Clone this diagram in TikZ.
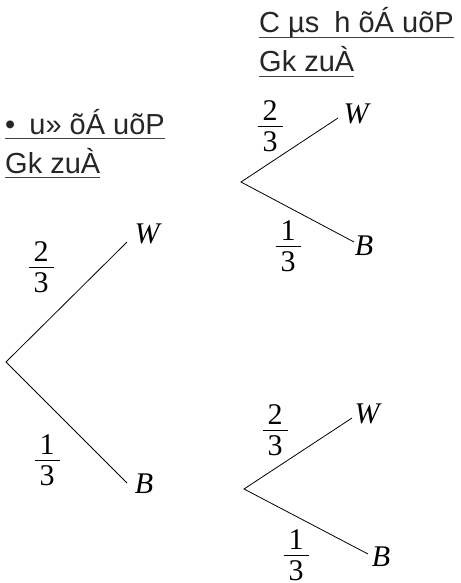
\documentclass[tikz,border=0pt]{standalone}
\usepackage{fontspec}
\setmainfont{Liberation Serif}
\newfontfamily\hdrfont{Liberation Sans}
\newcommand\myfr[2]{\vbox{\hbox to 25pt{\hss#1\hss}\kern5.5pt\hrule height 1pt\kern5pt\hbox to 25pt{\hss#2\hss}}}
\tikzset{
  hdr/.style={anchor=base west, inner sep=0pt, font=\hdrfont\fontsize{29}{33}\selectfont, text=black!85},
  ul/.style={line width=0.9pt, black!75},
  br/.style={line width=0.8pt, black},
  frc/.style={inner sep=0pt, font=\fontsize{30}{34}\selectfont},
  leaf/.style={inner sep=0pt, font=\fontsize{30}{34}\selectfont\itshape}
}
\begin{document}
\begin{tikzpicture}[x=1pt,y=-1pt]
\useasboundingbox (0,0) rectangle (460,583);
% headers
\node[hdr] (h1a) at (259,33) {C µs\hspace{7pt} h õÁ uõP\hspace{14pt}};
\node[hdr] (h1b) at (259,72) {Gk zuÀ\hspace{9pt}};
\node[hdr] (h2a) at (5,134) {•\hspace{6pt} u» õÁ uõP\hspace{11pt}};
\node[hdr] (h2b) at (5,173) {Gk zuÀ\hspace{10pt}};
\foreach \n in {h1a,h1b,h2a,h2b}{
  \draw[ul] ([yshift=-4pt]\n.base west) -- ([yshift=-4pt]\n.base east);
}
% main tree
\coordinate (r0) at (6,362);
\coordinate (w0) at (127,242);
\coordinate (b0) at (127,483);
\draw[br] (w0) -- (r0) -- (b0);
\node[leaf] (lw0) at (147,234) {W};
\node[leaf] (lb0) at (144,484) {B};
\node[frc] (f20) at (41,267) {\myfr{2}{3}};
\node[frc] (f10) at (47,460) {\myfr{1}{3}};
% upper right tree
\coordinate (r1) at (241,182);
\coordinate (w1) at (338,118);
\coordinate (b1) at (354,242);
\draw[br] (w1) -- (r1) -- (b1);
\node[leaf] (lw1) at (356,114) {W};
\node[leaf] (lb1) at (364,246) {B};
\node[frc] (f21) at (270,126) {\myfr{2}{3}};
\node[frc] (f11) at (288,246) {\myfr{1}{3}};
% lower right tree
\coordinate (r2) at (244,489);
\coordinate (w2) at (352,418);
\coordinate (b2) at (368,554);
\draw[br] (w2) -- (r2) -- (b2);
\node[leaf] (lw2) at (367,414) {W};
\node[leaf] (lb2) at (381,557) {B};
\node[frc] (f22) at (275,430) {\myfr{2}{3}};
\node[frc] (f12) at (296,555) {\myfr{1}{3}};
\end{tikzpicture}
\end{document}
